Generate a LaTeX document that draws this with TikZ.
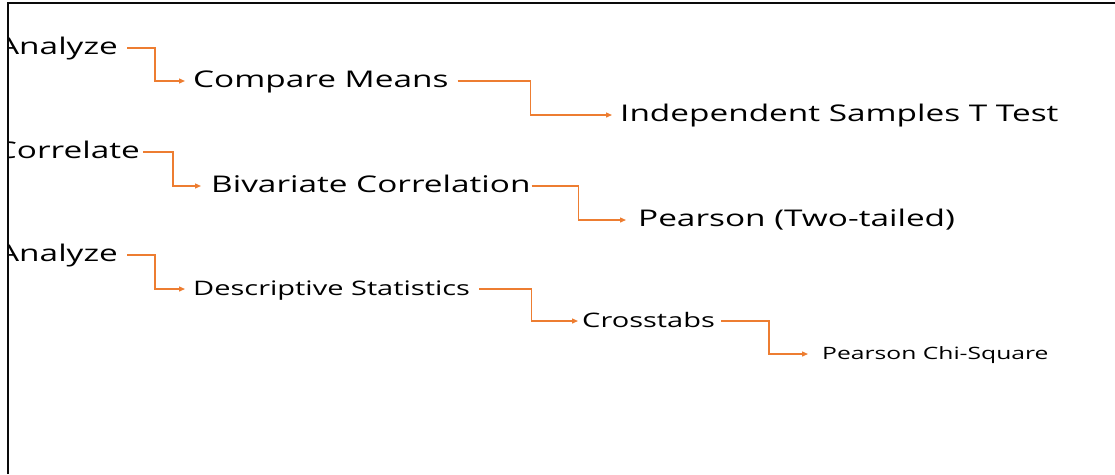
\documentclass[tikz,border=0pt]{standalone}
\usepackage{fontspec}
\setmainfont{Open Sans}[FakeStretch=1.45]
\usepackage{tikz}
\usetikzlibrary{positioning,calc}
\usetikzlibrary{arrows.meta}
\definecolor{FlowOrange}{RGB}{237,125,49}
\definecolor{FrameGray}{RGB}{10,10,10}
\tikzset{
  lbl/.style={inner xsep=0pt,inner ysep=0pt,text height=13pt,text depth=0pt,
    font=\fontsize{23}{27}\selectfont},
  lblsmall/.style={lbl,text height=12pt,font=\fontsize{20}{24}\selectfont},
  lbltiny/.style={lbl,text height=11pt,font=\fontsize{17}{20}\selectfont},
  flow/.style={draw=FlowOrange,line width=1.3pt,-{Triangle[length=6pt,width=5pt]},
    shorten <=9pt,shorten >=8pt},
}
\tikzset{frame/.style={draw=FrameGray,line width=2.6pt}}

\begin{document}
\begin{tikzpicture}[x=1pt,y=-1pt]
\useasboundingbox (0,0) rectangle (1115,474);
\begin{scope}
\clip (8,3) rectangle (1115,474);
% first row
\node[lbl,anchor=east] (an1) at (118,48) {Analyze};
\node[lbl,anchor=west] (cm) at (193,81) {Compare Means};
\node[lbl,anchor=west] (ist) at (620,115) {Independent Samples T Test};
% second row
\node[lbl,anchor=east] (cor) at (140,152) {Correlate};
\node[lbl,anchor=west] (biv) at (211,186) {Bivariate Correlation};
\node[lbl,anchor=west] (pt) at (638,220) {Pearson (Two-tailed)};
% third row
\node[lbl,anchor=east] (an2) at (118,255) {Analyze};
\node[lblsmall,anchor=west] (ds) at (193,289) {Descriptive Statistics};
\node[lblsmall,anchor=west] (ct) at (582,321) {Crosstabs};
\node[lbltiny,anchor=west] (pcs) at (822,354) {Pearson Chi-Square};
\end{scope}
\draw[flow] (an1.east) -- ++(37,0) |- (cm.west);
\draw[flow] (cm.east) -- ++(82,0) |- (ist.west);
\draw[flow,shorten <=3pt,shorten >=10pt] (cor.east) -- ++(33,0) |- (biv.west);
\draw[flow,shorten <=1pt,shorten >=12pt] (biv.east) -- ++(48,0) |- (pt.west);
\draw[flow] (an2.east) -- ++(37,0) |- (ds.west);
\draw[flow,shorten >=4pt] (ds.east) -- ++(61,0) |- (ct.west);
\draw[flow,shorten <=6pt,shorten >=14pt] (ct.east) -- ++(54,0) |- (pcs.west);
\draw[frame] (8,474) -- (8,3) -- (1115,3);
\end{tikzpicture}
\end{document}
